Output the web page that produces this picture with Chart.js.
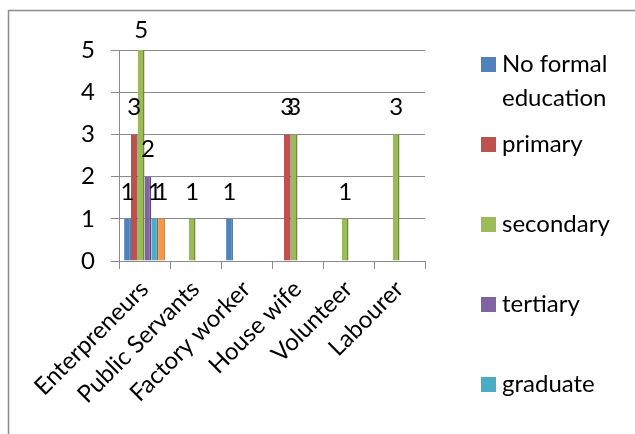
<!DOCTYPE html>
<html>
<head>
<meta charset="utf-8">
<script src="https://cdn.jsdelivr.net/npm/chart.js@4/dist/chart.umd.min.js"></script>
<style>
  html, body { margin: 0; padding: 0; background: #fff; }
  #wrap { width: 635px; height: 434px; }
</style>
</head>
<body>
<div id="wrap"><canvas id="barChart" width="635" height="434"></canvas></div>
<script>
const occupations = ["Enterpreneurs", "Public Servants", "Factory worker", "House wife", "Volunteer", "Labourer"];

const noFormal  = [1, null, 1, null, null, null];
const primary   = [3, null, null, 3, null, null];
const secondary = [5, 1, null, 3, 1, 3];
const tertiary  = [2, null, null, null, null, null];
const graduate  = [1, null, null, null, null, null];
const postgrad  = [1, null, null, null, null, null];

const seriesNames = ["No formal education", "primary", "secondary", "tertiary", "graduate", "postgraduate"];
const seriesColors = ["#4F81BD", "#C0504D", "#9BBB59", "#8064A2", "#4BACC6", "#F79646"];
const seriesEdges  = ["#385D8A", "#8C3836", "#71893F", "#5C4776", "#357D91", "#B66D31"];

const FONT = 'Lato, "Open Sans", sans-serif';
const FONT_SIZE = 24;
const GRID = '#8a8a8a';

// value above each bar
const valueLabels = {
  id: 'valueLabels',
  afterDatasetsDraw(chart) {
    const ctx = chart.ctx;
    ctx.save();
    ctx.font = FONT_SIZE + 'px ' + FONT;
    ctx.fillStyle = '#000';
    ctx.textAlign = 'center';
    ctx.textBaseline = 'bottom';
    chart.data.datasets.forEach((ds, i) => {
      chart.getDatasetMeta(i).data.forEach((bar, j) => {
        const v = ds.data[j];
        if (v == null) return;
        ctx.fillText(String(v), bar.x, Math.max(bar.y - 15, 42));
      });
    });
    ctx.restore();
  }
};

// legend down the right side, plus the outer frame
const sideLegend = {
  id: 'sideLegend',
  afterDraw(chart) {
    const ctx = chart.ctx;
    ctx.save();

    ctx.strokeStyle = '#8c8c8c';
    ctx.lineWidth = 1.5;
    ctx.beginPath();
    ctx.moveTo(8.5, chart.height);
    ctx.lineTo(8.5, 10.5);
    ctx.lineTo(chart.width, 10.5);
    ctx.stroke();

    ctx.font = FONT_SIZE + 'px ' + FONT;
    ctx.textBaseline = 'middle';
    ctx.textAlign = 'left';
    chart.data.datasets.forEach((ds, i) => {
      const y = 64 + i * 80;
      if (y > chart.height) return;
      ctx.fillStyle = ds.backgroundColor;
      ctx.fillRect(481, y - 7, 15, 15);
      ctx.fillStyle = '#000';
      // wrap long names onto two lines
      const words = ds.label.split(' ');
      const lines = [];
      let cur = '';
      words.forEach(w => {
        const test = cur ? cur + ' ' + w : w;
        if (cur && ctx.measureText(test).width > 125) { lines.push(cur); cur = w; }
        else cur = test;
      });
      lines.push(cur);
      lines.forEach((ln, k) => ctx.fillText(ln, 502, y + k * 34));
    });
    ctx.restore();
  }
};

const seriesData = [noFormal, primary, secondary, tertiary, graduate, postgrad];

new Chart(document.getElementById('barChart'), {
  type: 'bar',
  data: {
    labels: occupations,
    datasets: seriesData.map((d, i) => ({
      label: seriesNames[i],
      data: d,
      backgroundColor: seriesColors[i],
      borderColor: seriesEdges[i],
      borderWidth: { top: 0, right: 1.5, bottom: 0, left: 0 },
      borderSkipped: false,
      barPercentage: 1,
      categoryPercentage: 0.8
    }))
  },
  options: {
    responsive: false,
    animation: false,
    layout: { padding: { left: 0, right: 210, top: 50, bottom: 8 } },
    plugins: {
      legend: { display: false },
      tooltip: { enabled: false }
    },
    scales: {
      x: {
        grid: { display: true, drawOnChartArea: false, color: GRID, tickLength: 8, offset: true },
        border: { display: true, color: GRID },
        ticks: {
          autoSkip: false,
          minRotation: 45,
          maxRotation: 45,
          padding: 6,
          color: '#000',
          font: { family: FONT, size: FONT_SIZE }
        },
        afterFit(scale) { scale.height = 165; }
      },
      y: {
        min: 0,
        max: 5,
        grid: { color: GRID, tickLength: 8 },
        border: { display: true, color: GRID },
        ticks: {
          stepSize: 1,
          padding: 16,
          color: '#000',
          font: { family: FONT, size: FONT_SIZE }
        },
        afterFit(scale) { scale.width = 119; }
      }
    }
  },
  plugins: [valueLabels, sideLegend]
});
</script>
</body>
</html>
